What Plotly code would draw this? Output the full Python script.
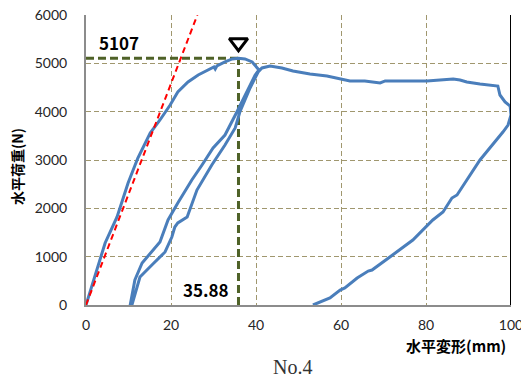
import plotly.graph_objects as go

# ---- data ----
load_x = [0.0, 2.1, 4.5, 7.3, 9.9, 12.2, 13.4, 15.1, 17.4, 19.8, 21.6, 24.0, 26.4, 29.6, 30.1, 30.4, 30.8, 32.7, 34.4, 35.88, 37.4, 39.1, 40.0, 40.7]
load_y = [0, 579, 1283, 1821, 2524, 3041, 3269, 3559, 3828, 4138, 4407, 4614, 4759, 4904, 4924, 4883, 4945, 5028, 5090, 5107, 5090, 5028, 4945, 4862]

unload1_x = [39.8, 37.9, 35.5, 32.7, 29.9, 27.3, 24.9, 21.6, 19.3, 17.4, 15.5, 13.2, 11.5, 10.4]
unload1_y = [4759, 4407, 3993, 3517, 3248, 2897, 2586, 2110, 1759, 1303, 1097, 869, 517, 0]

reload_x = [10.8, 12.7, 15.5, 18.6, 20.2, 20.9, 21.6, 23.8, 26.1, 27.5, 29.6, 32.7, 35.1, 36.2, 38.6, 40.5, 41.4]
reload_y = [0, 579, 828, 1097, 1407, 1614, 1697, 1821, 2379, 2586, 2897, 3310, 3662, 3993, 4490, 4821, 4904]

plateau_x = [43.3, 46.1, 48.7, 52.7, 56.7, 59.8, 62.1, 65.6, 69.2, 70.4, 73.9, 77.4, 80.2, 83.3, 86.4, 88.0, 89.6, 92.7, 95.1, 96.9, 97.4, 98.6, 99.8, 100.0]
plateau_y = [4945, 4904, 4841, 4779, 4738, 4676, 4635, 4635, 4593, 4635, 4635, 4635, 4635, 4655, 4676, 4655, 4614, 4572, 4552, 4531, 4345, 4200, 4117, 3931]

unload2_x = [99.3, 98.1, 92.7, 89.6, 87.3, 86.1, 84.0, 81.6, 76.9, 71.5, 67.3, 66.4, 63.8, 60.9, 59.8, 57.4, 55.1, 53.4]
unload2_y = [3724, 3579, 3000, 2586, 2276, 2214, 1924, 1759, 1345, 993, 724, 703, 559, 352, 310, 145, 62, 0]

stiff_x = [0.0, 26.2]
stiff_y = [0, 6000]

peak_x = 35.88
peak_y = 5107

x_ticks = [0, 20, 40, 60, 80, 100]
y_ticks = [0, 1000, 2000, 3000, 4000, 5000, 6000]

curve_x = load_x + unload1_x + reload_x + plateau_x + unload2_x
curve_y = load_y + unload1_y + reload_y + plateau_y + unload2_y

GRID = '#A0976E'
GREEN = '#4F6228'
BLUE = '#4A7EBB'

fig = go.Figure()

# green guide lines
fig.add_trace(go.Scatter(x=[0, peak_x], y=[peak_y, peak_y], mode='lines',
                         line=dict(color=GREEN, width=3, dash='8px,4px'),
                         hoverinfo='skip', showlegend=False))
fig.add_trace(go.Scatter(x=[peak_x, peak_x], y=[0, peak_y], mode='lines',
                         line=dict(color=GREEN, width=3, dash='8px,4px'),
                         hoverinfo='skip', showlegend=False))

# main curve
fig.add_trace(go.Scatter(x=curve_x, y=curve_y, mode='lines',
                         line=dict(color=BLUE, width=3),
                         showlegend=False))

# initial stiffness
fig.add_trace(go.Scatter(x=stiff_x, y=stiff_y, mode='lines',
                         line=dict(color='#FF0000', width=2, dash='6px,4px'),
                         showlegend=False))

# peak marker
fig.add_trace(go.Scatter(x=[peak_x], y=[peak_y + 320], mode='markers',
                         marker=dict(symbol='triangle-down-open', size=16,
                                     color='black', line=dict(color='black', width=3)),
                         showlegend=False, cliponaxis=False))

tickfont = dict(family='Lato, Open Sans, sans-serif', size=14, color='#262626')

fig.update_layout(
    width=521, height=378,
    margin=dict(l=86, r=10, t=15, b=73, autoexpand=False),
    paper_bgcolor='white', plot_bgcolor='white',
    xaxis=dict(range=[0, 100], tickvals=x_ticks, ticktext=[str(v) for v in x_ticks],
               showgrid=True, gridcolor=GRID, gridwidth=1, griddash='5px,3px',
               zeroline=False, showline=True, linecolor='#8C8C8C', linewidth=2,
               ticks='', tickfont=tickfont, ticklabelstandoff=6, ticklabeloverflow='allow',
               automargin=False, fixedrange=True),
    yaxis=dict(range=[0, 6000], tickvals=y_ticks, ticktext=[str(v) for v in y_ticks],
               showgrid=True, gridcolor=GRID, gridwidth=1, griddash='5px,3px',
               zeroline=False, showline=True, linecolor='#8C8C8C', linewidth=2,
               ticks='', tickfont=tickfont, ticklabelstandoff=14, ticklabeloverflow='allow',
               automargin=False, fixedrange=True),
    shapes=[dict(type='line', xref='x', yref='paper', x0=100, x1=100, y0=0, y1=1,
                 line=dict(color='black', width=2))],
    annotations=[
        dict(text='<b>5107</b>', xref='x', yref='y', x=2.7, y=peak_y, xanchor='left', yanchor='bottom',
             yshift=1, showarrow=False,
             font=dict(family='Noto Sans CJK JP', size=17, color='black')),
        dict(text='<b>35.88</b>', xref='x', yref='y', x=peak_x, y=0, xanchor='right', yanchor='bottom',
             xshift=-7, yshift=1, showarrow=False,
             font=dict(family='Noto Sans CJK JP', size=17, color='black')),
        dict(text='<b>水平荷重(N)</b>', xref='paper', yref='paper', x=-0.162, y=0.476,
             textangle=-90, xanchor='center', yanchor='middle', showarrow=False,
             font=dict(family='Noto Sans CJK JP', size=14, color='black')),
        dict(text='<b>水平変形(mm)</b>', xref='paper', yref='paper', x=0.993, y=-0.138,
             xanchor='right', yanchor='middle', showarrow=False,
             font=dict(family='Noto Sans CJK JP', size=15, color='black')),
        dict(text='No.4', xref='paper', yref='paper', x=0.487, y=-0.214,
             xanchor='center', yanchor='middle', showarrow=False,
             font=dict(family='Liberation Serif', size=20, color='#333333')),
    ],
)

fig.write_html('out.html')
